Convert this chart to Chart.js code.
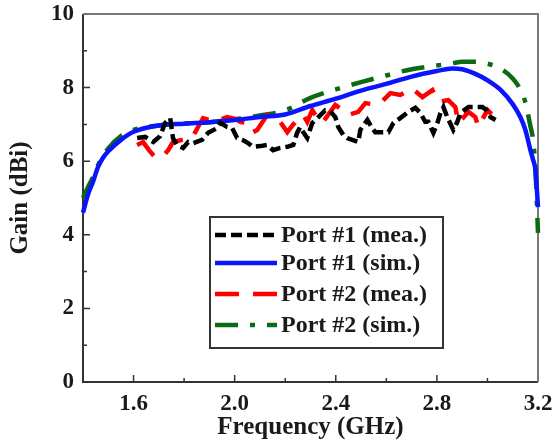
<!DOCTYPE html>
<html>
<head>
<meta charset="utf-8">
<script src="https://cdn.jsdelivr.net/npm/chart.js@4/dist/chart.umd.min.js"></script>
<style>
  html, body { margin: 0; padding: 0; background: #fff; }
  #wrap { width: 552px; height: 441px; }
</style>
</head>
<body>
<div id="wrap"><canvas id="gain-chart" width="552" height="441"></canvas></div>
<script>
// axis ticks
const freqTicks = [1.6, 2.0, 2.4, 2.8, 3.2];
const gainTicks = [0, 2, 4, 6, 8, 10];

// Port #1 measured
const mea1Freq = [1.614, 1.646, 1.678, 1.705, 1.725, 1.745, 1.756, 1.772, 1.796, 1.816, 1.836, 1.871, 1.895, 1.931, 1.943, 1.970, 1.990, 2.010, 2.030, 2.053, 2.073, 2.101, 2.129, 2.152, 2.180, 2.208, 2.232, 2.247, 2.259, 2.271, 2.287, 2.307, 2.331, 2.358, 2.378, 2.398, 2.410, 2.430, 2.445, 2.465, 2.489, 2.497, 2.525, 2.544, 2.556, 2.584, 2.608, 2.628, 2.655, 2.687, 2.715, 2.735, 2.754, 2.766, 2.786, 2.802, 2.814, 2.826, 2.841, 2.865, 2.881, 2.893, 2.925, 2.952, 2.980, 2.996, 3.012, 3.032];
const mea1Gain = [6.63, 6.66, 6.52, 6.68, 7.04, 7.17, 6.63, 6.44, 6.36, 6.52, 6.49, 6.58, 6.77, 6.90, 7.04, 6.93, 6.90, 6.63, 6.58, 6.49, 6.39, 6.41, 6.44, 6.30, 6.36, 6.39, 6.44, 6.77, 6.93, 6.79, 6.63, 7.04, 7.20, 7.38, 7.36, 7.20, 6.93, 6.71, 6.63, 6.58, 6.52, 6.85, 7.12, 6.90, 6.79, 6.79, 6.79, 7.04, 7.17, 7.34, 7.45, 7.31, 7.07, 7.07, 6.77, 7.04, 7.31, 7.47, 7.20, 6.85, 7.07, 7.31, 7.47, 7.47, 7.47, 7.39, 7.20, 7.12];

// Port #2 measured
const mea2Freq = [1.614, 1.638, 1.661, 1.685, 1.705, 1.713, 1.737, 1.756, 1.792, 1.832, 1.855, 1.875, 1.923, 1.970, 2.002, 2.022, 2.049, 2.073, 2.089, 2.129, 2.156, 2.180, 2.208, 2.220, 2.247, 2.271, 2.287, 2.307, 2.327, 2.347, 2.398, 2.426, 2.449, 2.489, 2.517, 2.544, 2.576, 2.616, 2.655, 2.679, 2.703, 2.743, 2.782, 2.806, 2.845, 2.873, 2.885, 2.925, 2.952, 2.964, 2.972, 3.000, 3.016];
const mea2Gain = [6.44, 6.52, 6.30, 6.11, 6.09, 6.11, 6.30, 6.52, 6.58, 6.63, 6.93, 7.17, 7.07, 7.20, 7.15, 7.07, 7.04, 6.79, 6.85, 7.26, 7.17, 7.07, 6.79, 6.90, 7.12, 7.26, 7.07, 7.39, 7.17, 7.04, 7.53, 7.39, 7.26, 7.34, 7.58, 7.55, 7.58, 7.85, 7.80, 7.88, 7.97, 7.74, 7.93, 7.61, 7.66, 7.47, 7.04, 7.34, 7.20, 6.93, 7.04, 7.39, 7.28];

// simulated curves share one frequency grid
const simFreq = [1.40, 1.42, 1.44, 1.46, 1.48, 1.50, 1.55, 1.60, 1.70, 1.80, 1.90, 2.00, 2.10, 2.20, 2.30, 2.40, 2.50, 2.60, 2.70, 2.80, 2.86, 2.90, 2.95, 3.00, 3.05, 3.10, 3.13, 3.15, 3.17, 3.18, 3.19, 3.20];
const sim1Gain = [4.60, 5.10, 5.45, 5.85, 6.10, 6.27, 6.58, 6.80, 6.97, 7.02, 7.06, 7.12, 7.20, 7.27, 7.50, 7.70, 7.92, 8.10, 8.30, 8.45, 8.52, 8.50, 8.38, 8.20, 7.95, 7.55, 7.20, 6.85, 6.30, 6.05, 5.75, 4.75];
const sim2Gain = [5.00, 5.30, 5.57, 5.90, 6.15, 6.35, 6.68, 6.85, 6.97, 7.02, 7.06, 7.14, 7.24, 7.38, 7.72, 7.95, 8.15, 8.33, 8.50, 8.60, 8.66, 8.70, 8.70, 8.65, 8.52, 8.25, 7.95, 7.60, 6.95, 6.60, 5.76, 4.05];

const seriesLabels = ["Port #1 (mea.)", "Port #1 (sim.)", "Port #2 (mea.)", "Port #2 (sim.)"];

function toPoints(xs, ys) {
  return xs.map((x, i) => ({ x: x, y: ys[i] }));
}

const serif = "'Liberation Serif', 'DejaVu Serif', serif";
const ink = "#1a1a1a";

// box frame with inward major/minor ticks
const framePlugin = {
  id: "frame",
  beforeDatasetsDraw(chart) {
    const { ctx, chartArea: a, scales } = chart;
    ctx.save();
    ctx.lineCap = "butt";
    ctx.strokeStyle = "#333";
    ctx.lineWidth = 2;
    ctx.beginPath();
    ctx.moveTo(a.left, a.top);
    ctx.lineTo(a.left, a.bottom);
    ctx.lineTo(a.right, a.bottom);
    ctx.stroke();
    ctx.strokeStyle = "#777";
    ctx.beginPath();
    ctx.moveTo(a.left, a.top);
    ctx.lineTo(a.right, a.top);
    ctx.lineTo(a.right, a.bottom);
    ctx.stroke();

    ctx.strokeStyle = "#333";
    ctx.lineWidth = 1.5;
    ctx.beginPath();
    for (let v = 1.4; v <= 3.2001; v += 0.2) {
      const px = scales.x.getPixelForValue(v);
      const major = Math.round(v * 10) % 4 === 0;
      if (px <= a.left + 1 || px >= a.right - 1) continue;
      ctx.moveTo(px, a.bottom);
      ctx.lineTo(px, a.bottom - (major ? 7 : 4));
    }
    for (let v = 1; v < 10; v++) {
      const py = scales.y.getPixelForValue(v);
      ctx.moveTo(a.left, py);
      ctx.lineTo(a.left + (v % 2 === 0 ? 7 : 4), py);
    }
    ctx.stroke();
    ctx.restore();
  }
};

// boxed legend inside the plot
const legendPlugin = {
  id: "boxLegend",
  afterDraw(chart) {
    const { ctx } = chart;
    const x0 = 210, y0 = 217, w = 233, h = 131;
    ctx.save();
    ctx.fillStyle = "#fff";
    ctx.fillRect(x0, y0, w, h);
    ctx.strokeStyle = "#333";
    ctx.lineWidth = 2;
    ctx.strokeRect(x0, y0, w, h);
    ctx.font = "bold 24px " + serif;
    ctx.textBaseline = "middle";
    const rows = [235, 263, 294, 325];
    chart.data.datasets.forEach((ds, i) => {
      const y = rows[i];
      ctx.strokeStyle = ds.borderColor;
      ctx.lineWidth = ds.borderWidth;
      ctx.setLineDash(ds.borderDash || []);
      ctx.lineCap = "butt";
      ctx.beginPath();
      ctx.moveTo(215, y);
      ctx.lineTo(277, y);
      ctx.stroke();
      ctx.setLineDash([]);
      ctx.fillStyle = ink;
      ctx.fillText(ds.label, 281, y + 1);
    });
    ctx.restore();
  }
};

new Chart(document.getElementById("gain-chart"), {
  type: "line",
  data: {
    datasets: [
      {
        label: seriesLabels[0],
        data: toPoints(mea1Freq, mea1Gain),
        borderColor: "#000000",
        borderWidth: 4.5,
        borderDash: [11, 5],
      },
      {
        label: seriesLabels[1],
        data: toPoints(simFreq, sim1Gain),
        borderColor: "#0a14ff",
        borderWidth: 4.5,
        cubicInterpolationMode: "monotone",
      },
      {
        label: seriesLabels[2],
        data: toPoints(mea2Freq, mea2Gain),
        borderColor: "#ff0000",
        borderWidth: 4.5,
        borderDash: [24, 14],
      },
      {
        label: seriesLabels[3],
        data: toPoints(simFreq, sim2Gain),
        borderColor: "#0b6b12",
        borderWidth: 4.5,
        borderDash: [23, 12, 5, 12],
        cubicInterpolationMode: "monotone",
      },
    ],
  },
  options: {
    responsive: false,
    animation: false,
    clip: 4,
    elements: {
      point: { radius: 0 },
      line: { tension: 0, borderCapStyle: "butt", fill: false },
    },
    layout: { padding: { left: 0, top: 14, right: 14, bottom: 0 } },
    plugins: {
      legend: { display: false },
      tooltip: { enabled: false },
    },
    scales: {
      x: {
        type: "linear",
        min: 1.4,
        max: 3.2,
        grid: { display: false, drawTicks: false },
        border: { display: false },
        afterBuildTicks: (scale) => {
          scale.ticks = freqTicks.map((v) => ({ value: v }));
        },
        afterFit: (scale) => {
          scale.height = 59;
          scale.paddingLeft = 0;
          scale.paddingRight = 0;
        },
        ticks: {
          padding: 8,
          maxRotation: 0,
          color: ink,
          font: { family: serif, size: 23, weight: "bold" },
          callback: (v) => Number(v).toFixed(1),
        },
        title: {
          display: true,
          text: "Frequency (GHz)",
          color: ink,
          padding: { top: 0, bottom: -2 },
          font: { family: serif, size: 25, weight: "bold" },
        },
      },
      y: {
        min: 0,
        max: 10,
        grid: { display: false, drawTicks: false },
        border: { display: false },
        afterBuildTicks: (scale) => {
          scale.ticks = gainTicks.map((v) => ({ value: v }));
        },
        afterFit: (scale) => {
          scale.width = 83;
          scale.paddingTop = 0;
          scale.paddingBottom = 0;
        },
        ticks: {
          padding: 9,
          color: ink,
          font: { family: serif, size: 23, weight: "bold" },
          callback: (v) => String(v),
        },
        title: {
          display: true,
          text: "Gain (dBi)",
          color: ink,
          padding: { top: 6, bottom: 0 },
          font: { family: serif, size: 25, weight: "bold" },
        },
      },
    },
  },
  plugins: [framePlugin, legendPlugin],
});
</script>
</body>
</html>
